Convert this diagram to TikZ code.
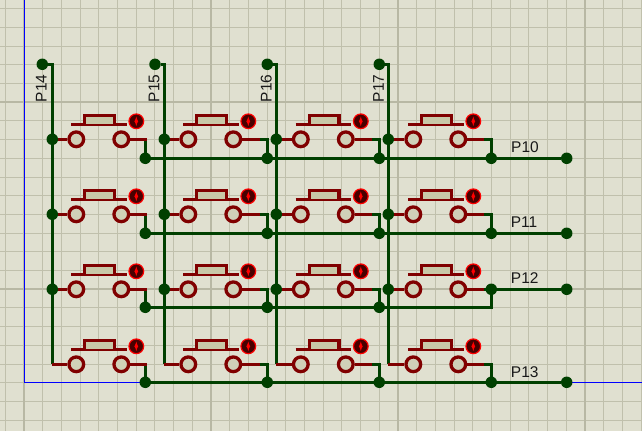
\documentclass[tikz,border=0pt]{standalone}
\usepackage{fontspec}
\setmainfont{Liberation Sans}
\usetikzlibrary{calc}

\definecolor{sheet}{RGB}{224,224,208}
\definecolor{gridminor}{RGB}{192,192,172}
\definecolor{gridmajor}{RGB}{184,184,164}
\definecolor{wiregreen}{RGB}{0,64,0}
\definecolor{pinred}{RGB}{128,0,0}
\definecolor{keybody}{RGB}{200,200,168}
\definecolor{pinbody}{RGB}{208,208,184}
\definecolor{inddark}{RGB}{72,0,0}

\tikzset{
    junc/.style={circle, fill=wiregreen, minimum size=11.5pt, inner sep=0pt},
    keypin/.style={circle, draw=pinred, fill=pinbody, line width=3.3pt, minimum size=14.7pt, inner sep=0pt},
    keyind/.style={circle, draw=red, fill=inddark, line width=1.2pt, minimum size=14.7pt, inner sep=0pt},
    greenwire/.style={draw=wiregreen, line width=3.5pt},
    redwire/.style={draw=pinred, line width=3.3pt},
    portlabel/.style={inner sep=0pt, font=\fontsize{15.5}{16}\selectfont, text=black!90},
}

% name, left pin x, pin y, column junction, bus junction, red wire end
\newcommand{\keybtn}[6]{
    \node[keypin] (#1L) at (#2,#3) {};
    \node[keypin] (#1R) at ($(#1L)+(45,0)$) {};
    \node[keyind] (#1I) at ($(#1L)+(60,-18)$) {};
    \coordinate (#1E) at ($(#1R -| #5)+(#6,0)$);

    \draw[redwire] ($(#1L)+(-5.3,-15)$) -- ($(#1L)+(50.4,-15)$);
    \draw[redwire, fill=keybody] ($(#1L)+(8.5,-15)$) -- ($(#1L)+(8.5,-23.5)$) -- ($(#1L)+(38.2,-23.5)$) -- ($(#1L)+(38.2,-15)$);
    \draw[red, line width=0.7pt, latex-latex] ($(#1I)+(0,-4.8)$) -- ($(#1I)+(0,4.8)$);

    \draw[greenwire] (#1E) -| (#5.center);
    \draw[redwire] (#4) -- (#1L);
    \draw[redwire] (#1R) -- (#1E);
}

\begin{document}
\begin{tikzpicture}[x=1pt, y=-1pt]
    \useasboundingbox (0,0) rectangle (642,431);
    \fill[sheet] (0,0) rectangle (642,431);

    % Sheet Grid
    \begin{scope}[y=1pt]
        \draw[gridminor, line width=1pt, shift={(24,-382.7)}, step=18.7] (-24,-48.3) grid (618,382.7);
        \draw[gridmajor, line width=1.6pt, shift={(24,-289)}, step=187] (-24,-142) grid (618,289);
    \end{scope}

    % Sheet Border
    \draw[blue, line width=1pt] (24,0) -- (24,382.3) -- (642,382.3);

    % Port Ends
    \node[junc] (P14end) at (42.3,64.3) {};
    \node[junc] (P15end) at (155,64.3) {};
    \node[junc] (P16end) at (267.3,64.3) {};
    \node[junc] (P17end) at (379.3,64.3) {};
    \node[junc] (P10end) at (566.7,158.3) {};
    \node[junc] (P11end) at (566.7,233.3) {};
    \node[junc] (P12end) at (566.7,289.3) {};
    \node[junc] (P13end) at (566.7,382.3) {};

    % Column Junctions
    \node[junc] (c1r1) at (52.3,139.3) {};
    \node[junc] (c1r2) at (52.3,214.3) {};
    \node[junc] (c1r3) at (52.3,289.3) {};
    \coordinate (c1r4) at (52.3,364.3);
    \node[junc] (c2r1) at (164.3,139.3) {};
    \node[junc] (c2r2) at (164.3,214.3) {};
    \node[junc] (c2r3) at (164.3,289.3) {};
    \coordinate (c2r4) at (164.3,364.3);
    \node[junc] (c3r1) at (276.3,139.3) {};
    \node[junc] (c3r2) at (276.3,214.3) {};
    \node[junc] (c3r3) at (276.3,289.3) {};
    \coordinate (c3r4) at (276.3,364.3);
    \node[junc] (c4r1) at (388.3,139.3) {};
    \node[junc] (c4r2) at (388.3,214.3) {};
    \node[junc] (c4r3) at (388.3,289.3) {};
    \coordinate (c4r4) at (388.3,364.3);

    % Bus Junctions
    \node[junc] (b1r1) at (145.3,158.3) {};
    \node[junc] (b2r1) at (267.3,158.3) {};
    \node[junc] (b3r1) at (379.3,158.3) {};
    \node[junc] (b4r1) at (491.3,158.3) {};
    \node[junc] (b1r2) at (145.3,233.3) {};
    \node[junc] (b2r2) at (267.3,233.3) {};
    \node[junc] (b3r2) at (379.3,233.3) {};
    \node[junc] (b4r2) at (491.3,233.3) {};
    \node[junc] (b1r3) at (145.3,307.3) {};
    \node[junc] (b2r3) at (267.3,307.3) {};
    \node[junc] (b3r3) at (379.3,307.3) {};
    \node[junc] (b4r3) at (491.3,289.3) {};
    \coordinate (b5r3) at (491.3,307.3);
    \node[junc] (b1r4) at (145.3,382.3) {};
    \node[junc] (b2r4) at (267.3,382.3) {};
    \node[junc] (b3r4) at (379.3,382.3) {};
    \node[junc] (b4r4) at (491.3,382.3) {};

    % Column Wires
    \draw[greenwire] (P14end) -| (c1r4);
    \draw[greenwire] (P15end) -| (c2r4);
    \draw[greenwire] (P16end) -| (c3r4);
    \draw[greenwire] (P17end) -| (c4r4);

    % Row Wires
    \draw[greenwire] (b1r1) -- (P10end);
    \draw[greenwire] (b1r2) -- (P11end);
    \draw[greenwire] (b1r3) -- (b5r3) -- (b4r3);
    \draw[greenwire] (b4r3) -- (P12end);
    \draw[greenwire] (b1r4) -- (P13end);

    % Keys
    \keybtn{ka}{76.3}{139.3}{c1r1}{b1r1}{1.5}
    \keybtn{kb}{188.3}{139.3}{c2r1}{b2r1}{-7}
    \keybtn{kc}{300.8}{139.3}{c3r1}{b3r1}{-7}
    \keybtn{kd}{413.3}{139.3}{c4r1}{b4r1}{-7}

    \keybtn{ke}{76.3}{214.3}{c1r2}{b1r2}{1.5}
    \keybtn{kf}{188.3}{214.3}{c2r2}{b2r2}{-7}
    \keybtn{kg}{300.8}{214.3}{c3r2}{b3r2}{-7}
    \keybtn{kh}{413.3}{214.3}{c4r2}{b4r2}{-7}

    \keybtn{ki}{76.3}{289.3}{c1r3}{b1r3}{1.5}
    \keybtn{kj}{188.3}{289.3}{c2r3}{b2r3}{-7}
    \keybtn{kk}{300.8}{289.3}{c3r3}{b3r3}{-7}
    \keybtn{kl}{413.3}{289.3}{c4r3}{b4r3}{-7}

    \keybtn{km}{76.3}{364.3}{c1r4}{b1r4}{1.5}
    \keybtn{kn}{188.3}{364.3}{c2r4}{b2r4}{-7}
    \keybtn{ko}{300.8}{364.3}{c3r4}{b3r4}{-7}
    \keybtn{kp}{413.3}{364.3}{c4r4}{b4r4}{-7}

    % Port Labels
    \node[portlabel] (P10) at (525,147.3) {P10};
    \node[portlabel] (P11) at (524,222) {P11};
    \node[portlabel] (P12) at (524.7,278.3) {P12};
    \node[portlabel] (P13) at (524.7,372) {P13};
    \node[portlabel, rotate=90] (P14) at (41.3,88.5) {P14};
    \node[portlabel, rotate=90] (P15) at (154,88.5) {P15};
    \node[portlabel, rotate=90] (P16) at (266.3,88.5) {P16};
    \node[portlabel, rotate=90] (P17) at (378.5,88.5) {P17};
\end{tikzpicture}
\end{document}
